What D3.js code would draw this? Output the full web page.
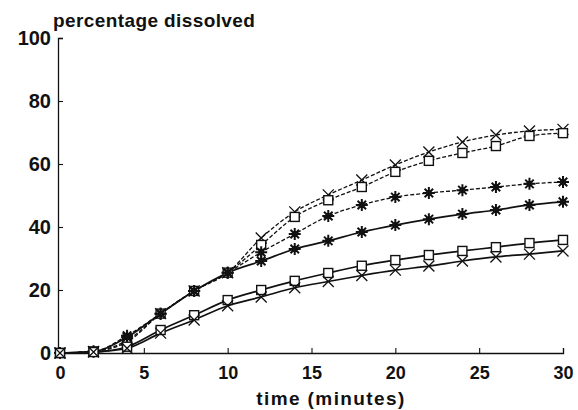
<!DOCTYPE html>
<html>
<head>
<meta charset="utf-8">
<script src="https://cdn.jsdelivr.net/npm/d3@7"></script>
<style>
  body { margin: 0; background: #fff; }
  svg { display: block; font-family: "Liberation Sans", Arial, sans-serif; }
</style>
</head>
<body>
<div id="chart"></div>
<script>
// time points (minutes)
const times = [0, 2, 4, 6, 8, 10, 12, 14, 16, 18, 20, 22, 24, 26, 28, 30];

// percentage dissolved, one array per curve
const dashedCross  = [0, 0.5, 4.0, 12.5, 19.7, 25.5, 36.5, 44.8, 50.2, 54.9, 59.7, 63.8, 67.0, 69.2, 70.5, 71.0];
const dashedSquare = [0, 0.5, 3.5, 12.5, 19.7, 25.5, 34.3, 43.2, 48.5, 52.7, 57.5, 61.0, 63.5, 65.7, 68.9, 69.8];
const dashedStar   = [0, 0.5, 5.5, 12.5, 19.7, 25.5, 32.0, 37.8, 43.5, 47.0, 49.5, 50.8, 51.7, 52.7, 53.7, 54.3];
const solidStar    = [0, 0.5, 5.0, 12.5, 19.7, 25.5, 29.2, 33.0, 35.6, 38.4, 40.6, 42.5, 44.1, 45.4, 47.0, 48.0];
const solidSquare  = [0, 0.3, 2.0, 7.3, 12.0, 16.8, 20.0, 22.9, 25.4, 27.7, 29.5, 31.1, 32.4, 33.6, 34.9, 35.9];
const solidCross   = [0, 0.3, 1.5, 6.3, 10.5, 15.0, 17.8, 20.7, 22.7, 24.6, 26.3, 27.6, 29.2, 30.5, 31.4, 32.4];

const xTicks = [0, 5, 10, 15, 20, 25, 30];
const yTicks = [0, 20, 40, 60, 80, 100];

const series = [
  {values: dashedCross,  marker: "cross",  dashed: true},
  {values: dashedSquare, marker: "square", dashed: true},
  {values: dashedStar,   marker: "star",   dashed: true},
  {values: solidStar,    marker: "star",   dashed: false},
  {values: solidSquare,  marker: "square", dashed: false},
  {values: solidCross,   marker: "cross",  dashed: false}
];

const width = 578, height = 410;

const x = d3.scaleLinear().domain([0, 30]).range([60, 563]);
const y = d3.scaleLinear().domain([0, 100]).range([353, 38]);

const svg = d3.select("#chart").append("svg")
    .attr("width", width)
    .attr("height", height);

// axes
const xAxis = svg.append("g")
    .attr("transform", `translate(0,${y(0)})`)
    .call(d3.axisBottom(x).tickValues(xTicks).tickSize(-5).tickPadding(13));
const yAxis = svg.append("g")
    .attr("transform", `translate(${x(0) - 2},0)`)
    .call(d3.axisLeft(y).tickValues(yTicks).tickSize(-5).tickPadding(7));

[xAxis, yAxis].forEach(g => {
  g.select(".domain").attr("stroke", "#111").attr("stroke-width", 1.3);
  g.selectAll(".tick line").attr("stroke", "#111").attr("stroke-width", 1.1);
  g.selectAll(".tick text")
      .attr("fill", "#111")
      .style("font-weight", "bold");
});
xAxis.selectAll(".tick text").style("font-size", "18px");
yAxis.selectAll(".tick text").style("font-size", "20px");

// titles
svg.append("text")
    .attr("x", 53).attr("y", 27)
    .attr("fill", "#111")
    .style("font-size", "19px").style("font-weight", "bold")
    .style("letter-spacing", "0.4px")
    .text("percentage dissolved");
svg.append("text")
    .attr("x", 331).attr("y", 405)
    .attr("text-anchor", "middle")
    .attr("fill", "#111")
    .style("font-size", "19px").style("font-weight", "bold")
    .style("letter-spacing", "1.4px")
    .text("time (minutes)");

// lines
const line = d3.line()
    .x((d, i) => x(times[i]))
    .y(d => y(d))
    .curve(d3.curveMonotoneX);

svg.append("g").selectAll("path")
  .data(series)
  .join("path")
    .attr("d", d => line(d.values))
    .attr("fill", "none")
    .attr("stroke", "#111")
    .attr("stroke-width", d => d.dashed ? 1.3 : 1.7)
    .attr("stroke-dasharray", d => d.dashed ? "4,2" : null);

// markers
function drawMarker(g, type) {
  if (type === "square") {
    g.append("rect").attr("x", -4.5).attr("y", -4.5).attr("width", 9).attr("height", 9)
      .attr("fill", "#fff").attr("stroke", "#111").attr("stroke-width", 1.4);
  } else if (type === "cross") {
    g.append("path").attr("d", "M-5.5,-5.5L5.5,5.5M-5.5,5.5L5.5,-5.5")
      .attr("stroke", "#111").attr("stroke-width", 1.3);
  } else {
    const spokes = d3.range(4).map(k => {
      const a = k * Math.PI / 4;
      const c = Math.cos(a) * 6, s = Math.sin(a) * 6;
      return `M${-c},${-s}L${c},${s}`;
    }).join("");
    g.append("path").attr("d", spokes)
      .attr("stroke", "#111").attr("stroke-width", 2);
    g.append("circle").attr("r", 3).attr("fill", "#111");
  }
}

series.forEach(s => {
  svg.append("g").selectAll("g")
    .data(s.values)
    .join("g")
      .attr("transform", (d, i) => `translate(${x(times[i])},${y(d)})`)
      .each(function() { drawMarker(d3.select(this), s.marker); });
});
</script>
</body>
</html>
